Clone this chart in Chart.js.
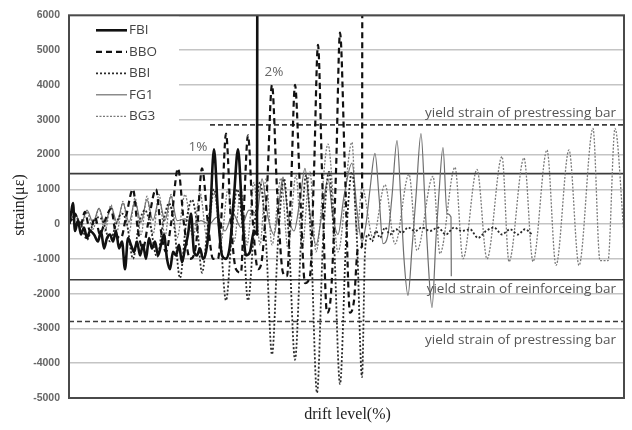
<!DOCTYPE html>
<html>
<head>
<meta charset="utf-8">
<script src="https://cdn.jsdelivr.net/npm/chart.js@4"></script>
<style>
  html, body { margin: 0; padding: 0; background: #fff; }
</style>
</head>
<body>
<canvas id="strainChart" width="632" height="430"></canvas>
<script>
// load step vs. measured strain (με), one [step, strain] pair per point
const fbi = [
  [0, 0], [2, 300], [4, 600], [6, -200], [9, 100], [12, -300], [15, -100], [18, -400],
  [21, -200], [25, -300], [29, -500], [32, -200], [35, -700], [38, -400], [41, -300],
  [44, -500], [47, -200], [50, -700], [53, -500], [56, -1300], [59, -400], [62, -600],
  [65, -800], [68, -500], [71, -900], [74, -600], [77, -1000], [80, -400], [83, -700],
  [86, -500], [89, -900], [92, -600], [95, -300], [98, -1000], [101, -1300], [104, -800],
  [107, -900], [110, -600], [113, -1100], [116, -700], [119, -300], [122, 300], [125, -800],
  [128, -900], [131, -700], [134, -1000], [137, -800], [141, 200], [145, 2150], [149, 300],
  [153, -900], [157, -1000], [161, -600], [165, 800], [169, 2150], [173, 400], [177, -900],
  [181, -800], [185, -200], [188, -300], [188.3, 7000]
];
const bbo = [
  [0, 0], [6, 300], [11, -100], [16, 350], [21, -200], [26, 200], [31, -300], [36, 100],
  [42, 430], [47, -300], [52, -400], [57, 200], [64, 1000], [69, -200], [74, -700], [79, 0],
  [87, 1000], [92, -200], [97, -800], [102, 0], [109, 1600], [115, 0], [121, -1000],
  [127, -600], [133, 1600], [139, 0], [144, -1000], [149, -1000], [153, 500], [157, 2600],
  [162, 0], [167, -1300], [172, -1400], [175, 500], [179, 2550], [184, 0], [189, -1300],
  [193, -1000], [198, 1000], [203, 4000], [208, 1000], [214, -1400], [218, -1500],
  [222, 1000], [226, 4000], [231, 1000], [236, -1700], [241, -1500], [245, 1500],
  [249, 5150], [253, 1500], [258, -2550], [262, -2000], [267, 1500], [271, 5500],
  [276, 1500], [281, -2550], [285, -2200], [289, -700], [293, -650], [293.3, 7000]
];
const bbi = [
  [0, 0], [6, 200], [12, 0], [18, -450], [24, 0], [30, 200], [35, 0], [41, -500], [47, 0],
  [53, 300], [58, 0], [64, -1000], [70, 0], [76, 400], [81, 0], [88, -950], [94, 0],
  [100, 600], [105, 0], [111, -1550], [117, 0], [123, 700], [128, 0], [133, -1400],
  [139, 0], [145, 1000], [151, -200], [157, -2200], [163, -200], [168, 1000], [174, -200],
  [179, -2200], [185, -200], [191, 1200], [197, -500], [203, -3750], [209, -500],
  [215, 1300], [220, -500], [226, -3900], [232, -500], [237, 1400], [242, -500],
  [248, -4850], [254, -500], [260, 1500], [265, -500], [271, -4600], [277, -500],
  [283, 1500], [288, -500], [293, -4400], [296, -800], [299, -300], [303, -500],
  [307, -200], [311, -400], [316, -100], [321, -300], [327, -150], [333, -250], [339, -100],
  [346, -200], [353, -100], [361, -200], [369, -100], [377, -300], [385, -100], [393, -200],
  [401, -150], [409, -400], [417, -200], [425, -100], [433, -300], [441, -150], [449, -300],
  [456, -150], [463, -300]
];
const fg1 = [
  [0, 0], [6, 300], [12, 0], [18, 400], [24, 50], [30, 450], [36, 0], [42, 500], [48, 50],
  [54, 600], [60, 50], [66, 650], [72, 50], [78, 700], [84, 100], [90, 700], [96, 100],
  [102, 800], [108, 100], [116, 150], [124, 0], [132, 100], [140, 0], [148, 200],
  [156, -200], [164, 300], [172, -100], [180, 400], [188, 300], [193, 1300], [199, 200],
  [205, -300], [210, 600], [214, 1350], [219, 300], [225, -200], [231, 700], [236, 1600],
  [241, 300], [247, -600], [253, 300], [259, 1300], [264, 200], [269, -300], [275, 800],
  [283, 1750], [288, 400], [293, -500], [297, 0], [301, 1000], [306, 2030], [310, 800],
  [314, -560], [319, -300], [323, 800], [328, 2400], [332, 600], [335, -1000], [339, -2050],
  [343, -700], [347, 800], [352, 2600], [356, 600], [359, -1000], [363, -2400], [367, -400],
  [370, 900], [374, 2200], [378, 300], [382, 200], [382.3, -1500]
];
const bg3 = [
  [0, 0], [6, 250], [12, -100], [18, 350], [24, -150], [30, 450], [36, -200], [42, 550],
  [48, -200], [54, 650], [60, -250], [66, 750], [72, -300], [78, 800], [84, -300], [90, 850],
  [96, -350], [102, 850], [108, -400], [116, 850], [124, -400], [131, 900], [138, -400],
  [145, 900], [152, -500], [159, 1000], [165, -500], [172, 1000], [178, -600], [185, 1200],
  [191, -600], [197, 1300], [203, -600], [212, 1320], [219, -700], [227, 1400], [233, -700],
  [241, 1500], [247, -800], [259, 2300], [269, -800], [283, 2350], [288, -300], [293, 1070],
  [304, -400], [316, 1130], [326, -570], [340, 1430], [348, -760], [364, 1370], [371, -850],
  [386, 1630], [394, -1000], [408, 1570], [418, -1000], [433, 1940], [440, -1080],
  [455, 1900], [464, -1080], [478, 2130], [487, -1190], [500, 2130], [510, -1190],
  [524, 2750], [531, -1050], [539, -1050], [546, 2750], [555, -300]
];

// yield limits (με) and the step range each reference line covers
const yieldReinforcing = [1450, -1600];
const yieldPrestressing = [2850, -2800];
const prestressUpperFrom = 141;
const lastStep = 555;

// drift markers: [text, step, strain]
const driftMarks = [['1%', 129, 2200], ['2%', 205, 4370]];

const yTicks = [-5000, -4000, -3000, -2000, -1000, 0, 1000, 2000, 3000, 4000, 5000, 6000];

const toPoints = arr => arr.map(([x, y]) => ({ x, y }));

function series(label, data, color, width, dash) {
  return {
    label,
    data: toPoints(data),
    borderColor: color,
    borderWidth: width,
    borderDash: dash,
    pointRadius: 0,
    fill: false,
    cubicInterpolationMode: 'monotone'
  };
}

function refLine(value, from, dash) {
  return {
    label: '',
    isRef: true,
    data: [{ x: from, y: value }, { x: lastStep, y: value }],
    borderColor: '#3c3c3c',
    borderWidth: 1.6,
    borderDash: dash,
    pointRadius: 0,
    fill: false
  };
}

const datasets = [
  series('FBI', fbi, '#111', 2.6, []),
  series('BBO', bbo, '#111', 2.2, [6, 4]),
  series('BBI', bbi, '#2a2a2a', 1.8, [2, 2]),
  series('FG1', fg1, '#6e6e6e', 1.2, []),
  series('BG3', bg3, '#7a7a7a', 1.3, [2, 1.5]),
  refLine(yieldReinforcing[0], 0, []),
  refLine(yieldReinforcing[1], 0, []),
  refLine(yieldPrestressing[0], prestressUpperFrom, [5, 3]),
  refLine(yieldPrestressing[1], 0, [5, 3])
];

// frame, in-plot legend, notes and axis titles
const chartDecor = {
  id: 'chartDecor',
  beforeDatasetsDraw(chart) {
    const { ctx, chartArea: a } = chart;
    ctx.save();
    ctx.fillStyle = '#fff';
    ctx.fillRect(a.left + 1, a.top + 1, 109, 117);
    ctx.restore();
  },
  afterDatasetsDraw(chart) {
    const { ctx, chartArea: a, scales: { x, y } } = chart;
    ctx.save();

    ctx.strokeStyle = '#4a4a4a';
    ctx.lineWidth = 2;
    ctx.strokeRect(a.left, a.top, a.right - a.left, a.bottom - a.top);

    // legend
    ctx.font = '13.5px "Open Sans"';
    ctx.textBaseline = 'middle';
    ctx.textAlign = 'left';
    chart.data.datasets.filter(ds => !ds.isRef).forEach((ds, i) => {
      const ly = a.top + 15 + i * 21.5;
      ctx.strokeStyle = ds.borderColor;
      ctx.lineWidth = ds.borderWidth;
      ctx.setLineDash(ds.borderDash);
      ctx.beginPath();
      ctx.moveTo(a.left + 27, ly);
      ctx.lineTo(a.left + 58, ly);
      ctx.stroke();
      ctx.setLineDash([]);
      ctx.fillStyle = '#444';
      ctx.fillText(ds.label, a.left + 60, ly);
    });

    // yield strain notes
    ctx.fillStyle = '#555';
    ctx.font = '13.5px "Open Sans"';
    ctx.textAlign = 'right';
    ctx.textBaseline = 'alphabetic';
    ctx.fillText('yield strain of prestressing bar', a.right - 8, y.getPixelForValue(yieldPrestressing[0]) - 8);
    ctx.fillText('yield strain of reinforceing bar', a.right - 8, y.getPixelForValue(yieldReinforcing[1]) + 13);
    ctx.fillText('yield strain of prestressing bar', a.right - 8, y.getPixelForValue(yieldPrestressing[1]) + 23);

    // drift level markers
    ctx.textAlign = 'center';
    ctx.textBaseline = 'middle';
    ctx.fillStyle = '#666';
    driftMarks.forEach(([t, sx, sy]) => {
      ctx.fillText(t, x.getPixelForValue(sx), y.getPixelForValue(sy));
    });

    // axis titles
    ctx.fillStyle = '#222';
    ctx.font = '16px "Liberation Serif"';
    ctx.fillText('drift level(%)', (a.left + a.right) / 2 + 1, 415);
    ctx.translate(20, 205);
    ctx.rotate(-Math.PI / 2);
    ctx.fillText('strain(με)', 0, 0);

    ctx.restore();
  }
};

new Chart(document.getElementById('strainChart'), {
  type: 'line',
  data: { datasets },
  options: {
    responsive: false,
    animation: false,
    layout: { padding: { top: 7, right: 8, left: 0, bottom: 0 } },
    plugins: {
      legend: { display: false },
      tooltip: { enabled: false }
    },
    scales: {
      x: {
        type: 'linear',
        min: 0,
        max: lastStep,
        ticks: { display: false },
        grid: { display: false },
        border: { display: false },
        afterFit: s => { s.height = 32; }
      },
      y: {
        min: -5000,
        max: 6000,
        afterBuildTicks: s => { s.ticks = yTicks.map(v => ({ value: v })); },
        ticks: {
          padding: 9,
          color: '#666',
          font: { family: 'Liberation Sans', size: 10.5, weight: 'bold' },
          callback: v => String(v)
        },
        grid: { color: '#c4c4c4', lineWidth: 1.5, drawTicks: false },
        border: { display: false },
        afterFit: s => { s.width = 69; }
      }
    }
  },
  plugins: [chartDecor]
});
</script>
</body>
</html>
